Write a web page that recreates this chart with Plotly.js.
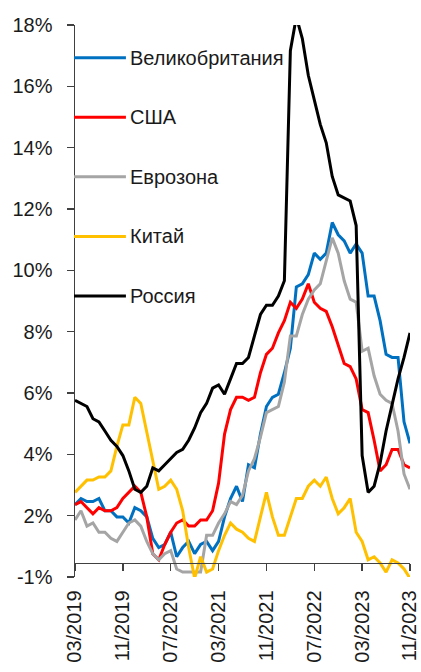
<!DOCTYPE html>
<html>
<head>
<meta charset="utf-8">
<script src="https://cdn.plot.ly/plotly-3.0.1.min.js"></script>
<style>
  html, body { margin: 0; padding: 0; background: #ffffff; }
  #chart { width: 421px; height: 672px; }
</style>
</head>
<body>
<div id="chart"></div>
<script>
// Months (categories)
const months = [
  "03/2019","04/2019","05/2019","06/2019","07/2019","08/2019","09/2019","10/2019","11/2019","12/2019",
  "01/2020","02/2020","03/2020","04/2020","05/2020","06/2020","07/2020","08/2020","09/2020","10/2020","11/2020","12/2020",
  "01/2021","02/2021","03/2021","04/2021","05/2021","06/2021","07/2021","08/2021","09/2021","10/2021","11/2021","12/2021",
  "01/2022","02/2022","03/2022","04/2022","05/2022","06/2022","07/2022","08/2022","09/2022","10/2022","11/2022","12/2022",
  "01/2023","02/2023","03/2023","04/2023","05/2023","06/2023","07/2023","08/2023","09/2023","10/2023","11/2023"
];

const xTickLabels = ["03/2019","11/2019","07/2020","03/2021","11/2021","07/2022","03/2023","11/2023"];
const yTickLabels = ["-1%","2%","4%","6%","8%","10%","12%","14%","16%","18%"];

const seriesNames = ["Великобритания","США","Еврозона","Китай","Россия"];

const uk = [
  1.9, 2.1, 2.0, 2.0, 2.1, 1.7, 1.7, 1.5, 1.5, 1.3,
  1.8, 1.7, 1.5, 0.8, 0.5, 0.6, 1.0, 0.2, 0.5, 0.7, 0.3, 0.6,
  0.7, 0.4, 0.7, 1.5, 2.1, 2.5, 2.0, 3.2, 3.1, 4.2, 5.1, 5.4,
  5.5, 6.2, 7.0, 9.0, 9.1, 9.4, 10.1, 9.9, 10.1, 11.1, 10.7, 10.5,
  10.1, 10.4, 10.1, 8.7, 8.7, 7.9, 6.8, 6.7, 6.7, 4.6, 3.9
];
const us = [
  1.9, 2.0, 1.8, 1.6, 1.8, 1.7, 1.7, 1.8, 2.1, 2.3,
  2.5, 2.3, 1.5, 0.3, 0.1, 0.6, 1.0, 1.3, 1.4, 1.2, 1.2, 1.4,
  1.4, 1.7, 2.6, 4.2, 5.0, 5.4, 5.4, 5.3, 5.4, 6.2, 6.8, 7.0,
  7.5, 7.9, 8.5, 8.3, 8.6, 9.1, 8.5, 8.3, 8.2, 7.7, 7.1, 6.5,
  6.4, 6.0, 5.0, 4.9, 4.0, 3.0, 3.2, 3.7, 3.7, 3.2, 3.1
];
const ez = [
  1.4, 1.7, 1.2, 1.3, 1.0, 1.0, 0.8, 0.7, 1.0, 1.3,
  1.4, 1.2, 0.7, 0.3, 0.1, 0.3, 0.4, -0.2, -0.3, -0.3, -0.3, -0.3,
  0.9, 0.9, 1.3, 1.6, 2.0, 1.9, 2.2, 3.0, 3.4, 4.1, 4.9, 5.0,
  5.1, 5.9, 7.4, 7.4, 8.1, 8.6, 8.9, 9.1, 9.9, 10.6, 10.1, 9.2,
  8.6, 8.5, 6.9, 7.0, 6.1, 5.5, 5.3, 5.2, 4.3, 2.9, 2.4
];
const cn = [
  2.3, 2.5, 2.7, 2.7, 2.8, 2.8, 3.0, 3.8, 4.5, 4.5,
  5.4, 5.2, 4.3, 3.3, 2.4, 2.5, 2.7, 2.4, 1.7, 0.5, -0.5, 0.2,
  -0.3, -0.2, 0.4, 0.9, 1.3, 1.1, 1.0, 0.8, 0.7, 1.5, 2.3, 1.5,
  0.9, 0.9, 1.5, 2.1, 2.1, 2.5, 2.7, 2.5, 2.8, 2.1, 1.6, 1.8,
  2.1, 1.0, 0.7, 0.1, 0.2, 0.0, -0.3, 0.1, 0.0, -0.2, -0.5
];
const ru = [
  5.3, 5.2, 5.1, 4.7, 4.6, 4.3, 4.0, 3.8, 3.5, 3.0,
  2.4, 2.3, 2.5, 3.1, 3.0, 3.2, 3.4, 3.6, 3.7, 4.0, 4.4, 4.9,
  5.2, 5.7, 5.8, 5.5, 6.0, 6.5, 6.5, 6.7, 7.4, 8.1, 8.4, 8.4,
  8.7, 9.2, 16.7, 17.8, 17.1, 15.9, 15.1, 14.3, 13.7, 12.6, 12.0, 11.9,
  11.8, 11.0, 3.5, 2.3, 2.5, 3.25, 4.3, 5.15, 6.0, 6.7, 7.5
];

const seriesValues = [uk, us, ez, cn, ru];
const seriesColors = ["#0070C0", "#FF0000", "#A5A5A5", "#FFC000", "#000000"];

// Axis layout (the picture's labelled grid sits 0.46 pt below the value scale)
const yShift = -0.46;
const yRange = [yShift, yShift + 18];
const yTickVals = yTickLabels.map((t, k) => yShift + 2 * k);

const FONT = "Liberation Sans, Arial, sans-serif";
const FS = 20;
const TXT = "#1a1a1a";
const AXC = "#404040";

const traces = seriesValues.map((vals, i) => ({
  type: "scatter",
  mode: "lines",
  x: months,
  y: vals,
  name: seriesNames[i],
  line: { color: seriesColors[i], width: 3 },
  hoverinfo: "x+y+name",
  showlegend: false
}));

// Manual legend: line samples and labels in paper coordinates
const shapes = [];
const annotations = [];
seriesNames.forEach((nm, i) => {
  const yp = (577.3 - (57.7 + 59.6 * i)) / 552.3;
  shapes.push({
    type: "line", xref: "paper", yref: "paper",
    x0: -0.003, x1: 0.152, y0: yp, y1: yp,
    line: { color: seriesColors[i], width: 3 }
  });
  annotations.push({
    xref: "paper", yref: "paper", x: 0.158, y: yp,
    xanchor: "left", yanchor: "middle", showarrow: false,
    text: nm, font: { family: FONT, size: FS, color: TXT }
  });
});

const layout = {
  width: 421, height: 672,
  margin: { l: 75, r: 11, t: 25, b: 95, pad: 0 },
  paper_bgcolor: "#ffffff",
  plot_bgcolor: "#ffffff",
  showlegend: false,
  font: { family: FONT, size: FS, color: TXT },
  xaxis: {
    type: "category",
    range: [0, months.length - 1],
    anchor: "free",
    position: -yShift / 18,
    showline: true, linecolor: AXC, linewidth: 1.5,
    ticks: "outside", ticklen: 7, tickwidth: 1.5, tickcolor: AXC,
    tickvals: xTickLabels, ticktext: xTickLabels,
    tickangle: -90,
    ticklabelstandoff: 11,
    showgrid: false, zeroline: false,
    tickfont: { family: FONT, size: FS, color: TXT }
  },
  yaxis: {
    range: yRange,
    showline: true, linecolor: AXC, linewidth: 1.5,
    ticks: "outside", ticklen: 7, tickwidth: 1.5, tickcolor: AXC,
    tickvals: yTickVals, ticktext: yTickLabels,
    ticklabelstandoff: 10,
    showgrid: false, zeroline: false,
    tickfont: { family: FONT, size: FS, color: TXT }
  },
  shapes: shapes,
  annotations: annotations
};

Plotly.newPlot("chart", traces, layout, { displayModeBar: false, staticPlot: true });
</script>
</body>
</html>
